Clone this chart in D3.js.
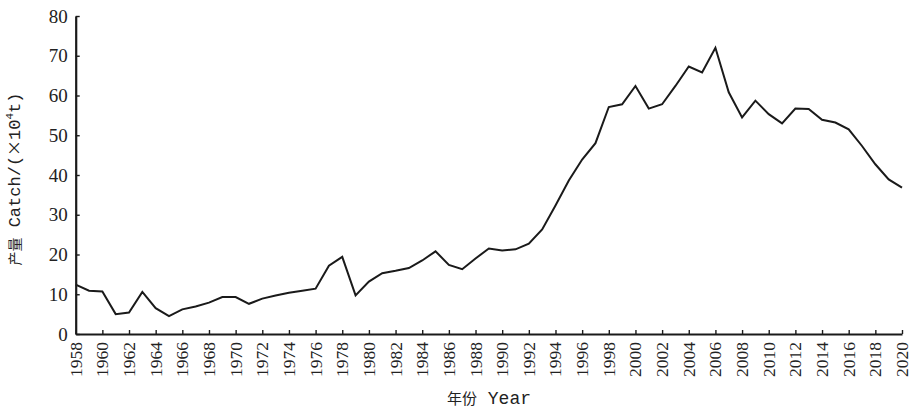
<!DOCTYPE html>
<html>
<head>
<meta charset="utf-8">
<script src="https://cdn.jsdelivr.net/npm/d3@7"></script>
<style>
  html, body { margin: 0; padding: 0; background: #fff; }
  svg { display: block; }
  text { font-family: "Liberation Serif", "Noto Sans CJK SC", serif; fill: #222; }
  .title { font-family: "Liberation Mono", "Noto Sans CJK SC", monospace; }
  .cjk { font-family: "Noto Sans CJK SC", sans-serif; }
</style>
</head>
<body>
<svg id="chart" width="911" height="412"></svg>
<script>
const years = d3.range(1958, 2021);
const catchValues = [
  12.4, 10.9, 10.7, 5.0, 5.4, 10.6, 6.5, 4.5, 6.2, 6.9,
  7.9, 9.3, 9.3, 7.6, 8.9, 9.7, 10.4, 10.9, 11.4, 17.2,
  19.4, 9.7, 13.2, 15.3, 15.9, 16.6, 18.5, 20.8, 17.4, 16.3,
  19.0, 21.5, 21.0, 21.3, 22.7, 26.3, 32.3, 38.6, 43.9, 48.0,
  57.1, 57.8, 62.4, 56.7, 57.8, 62.4, 67.3, 65.8, 72.0, 60.8,
  54.5, 58.7, 55.3, 53.0, 56.7, 56.6, 53.9, 53.2, 51.5, 47.3,
  42.7, 38.9, 36.8
];
const xTickValues = d3.range(1958, 2021, 2);
const yTickValues = [0, 10, 20, 30, 40, 50, 60, 70, 80];
const xTitleCn = "年份";
const xTitleEn = " Year";
const yTitleCn = "产量";
const yTitleEn = " Catch/(";
const yTitleTimes = "×";
const yTitleTen = "10";
const yTitleSup = "4";
const yTitleEnd = "t)";

const svg = d3.select("#chart");
const x = d3.scaleLinear().domain([1958, 2020]).range([75.7, 902]);
const y = d3.scaleLinear().domain([0, 80]).range([334, 16]);

// line
const data = years.map((yr, i) => ({ yr, v: catchValues[i] }));
svg.append("path")
  .datum(data)
  .attr("fill", "none")
  .attr("stroke", "#1a1a1a")
  .attr("stroke-width", 2)
  .attr("stroke-linejoin", "miter")
  .attr("d", d3.line().x(d => x(d.yr)).y(d => y(d.v)));

// x axis
const gx = svg.append("g")
  .attr("transform", `translate(0,${y(0)})`)
  .call(d3.axisBottom(x).tickValues(xTickValues).tickFormat(d3.format("d"))
    .tickSizeInner(-4).tickSizeOuter(0).tickPadding(8));
gx.select(".domain").attr("stroke", "#1a1a1a").attr("stroke-width", 2.2);
gx.selectAll(".tick line").attr("stroke", "#1a1a1a").attr("stroke-width", 1.4);
gx.selectAll(".tick text")
  .attr("font-size", 17.5)
  .attr("text-anchor", "end")
  .attr("dy", null)
  .attr("y", 0)
  .attr("x", 0)
  .attr("transform", "translate(5.5,8) rotate(-90)");

// y axis
const gy = svg.append("g")
  .attr("transform", `translate(${x(1958)},0)`)
  .call(d3.axisLeft(y).tickValues(yTickValues).tickFormat(d3.format("d"))
    .tickSizeInner(-4).tickSizeOuter(0).tickPadding(8));
gy.select(".domain").attr("stroke", "#1a1a1a").attr("stroke-width", 2.2);
gy.selectAll(".tick line").attr("stroke", "#1a1a1a").attr("stroke-width", 1.4);
gy.selectAll(".tick text").attr("font-size", 19).attr("x", -8);

// titles
const xt = svg.append("text")
  .attr("class", "title")
  .attr("x", 489).attr("y", 404)
  .attr("text-anchor", "middle")
  .attr("font-size", 18);
xt.append("tspan").attr("class", "cjk").attr("font-size", 15).text(xTitleCn);
xt.append("tspan").text(xTitleEn);

const yt = svg.append("text")
  .attr("class", "title")
  .attr("transform", "translate(20,179) rotate(-90)")
  .attr("text-anchor", "middle")
  .attr("font-size", 17);
yt.append("tspan").attr("class", "cjk").attr("font-size", 14).text(yTitleCn);
yt.append("tspan").text(yTitleEn);
yt.append("tspan").attr("class", "cjk").attr("font-size", 16).text(yTitleTimes);
yt.append("tspan").text(yTitleTen);
yt.append("tspan").attr("font-size", 11).attr("dy", -7).text(yTitleSup);
yt.append("tspan").attr("dy", 7).text(yTitleEnd);
</script>
</body>
</html>
